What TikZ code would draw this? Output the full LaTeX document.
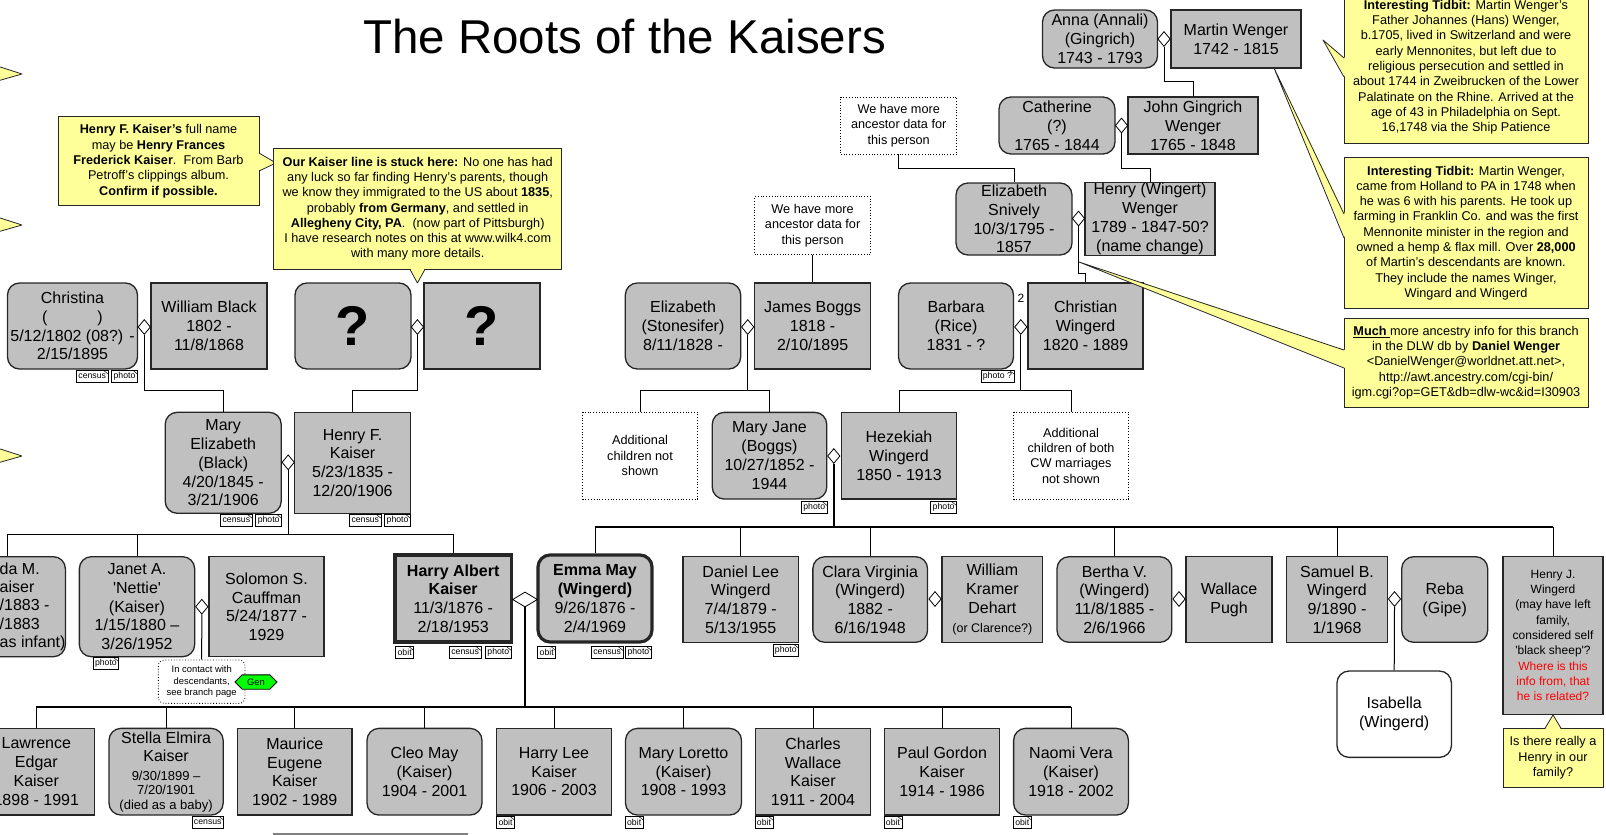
\documentclass[tikz,border=0pt]{standalone}
\usepackage{fontspec}
\setmainfont{Liberation Sans}
\usetikzlibrary{positioning,shapes.geometric,shapes.symbols}

\definecolor{boxgray}{HTML}{C0C0C0}
\definecolor{noteyellow}{HTML}{FFFF99}
\definecolor{edgegray}{HTML}{262626}
\definecolor{gengreen}{HTML}{00FF00}

\begin{document}
\begin{tikzpicture}[x=1pt, y=-1pt,
		man/.style={draw=edgegray, line width=1.3pt, fill=boxgray, align=center, inner sep=1pt,
			minimum width=116pt, minimum height=86pt, font=\fontsize{16}{18.8}\selectfont},
		woman/.style={man, rounded corners=12pt},
		focus/.style={line width=3.2pt},
		wed/.style={diamond, draw=black, fill=white, line width=0.8pt, inner sep=0pt,
			minimum width=12.5pt, minimum height=15pt},
		note/.style={draw=edgegray, line width=0.8pt, fill=noteyellow, align=center, inner sep=2pt,
			font=\fontsize{12.7}{15.3}\selectfont},
		more/.style={draw, dotted, line width=0.8pt, fill=white, align=center, inner sep=1pt,
			minimum width=116pt, font=\fontsize{12.7}{15.3}\selectfont},
		tag/.style={draw, fill=white, line width=0.6pt, inner xsep=2pt, inner ysep=0pt,
			minimum height=12pt, font=\fontsize{8.7}{9}\selectfont,
			path picture={\draw [line width=0.5pt] ([xshift=-5pt]path picture bounding box.north east) -- ([yshift=-4pt]path picture bounding box.north east);}},
		link/.style={line width=1pt},
		bus/.style={line width=2pt},
		pointer/.style={draw=edgegray, line width=0.8pt, fill=noteyellow, line join=round},
		pointeredge/.style={draw=edgegray, line width=0.8pt, line join=round}
	]
		\useasboundingbox ( 0, 0 ) rectangle ( 1606, 835 );

		% заголовок
		\node [font=\fontsize{47.5}{52}\selectfont, anchor=base] (title) at ( 624.5, 53 ) {The Roots of the Kaisers};

		% выноски у левого края
		\coordinate (lefttip1) at ( 22, 74 );
		\coordinate (lefttip2) at ( 22, 225 );
		\coordinate (lefttip3) at ( 22, 456 );
		\draw [pointer] ( -6, 65 ) -- (lefttip1) -- ( -6, 82 ) -- cycle;
		\draw [pointer] ( -6, 216 ) -- (lefttip2) -- ( -6, 233 ) -- cycle;
		\draw [pointer] ( -6, 447 ) -- (lefttip3) -- ( -6, 464 ) -- cycle;

		% Anna + Martin Wenger
		\node [woman, minimum width=115pt, minimum height=58pt] (anna) at ( 1100, 39 ) {Anna (Annali)\\(Gingrich)\\1743 - 1793};
		\node [man, minimum width=130pt, minimum height=58pt] (martin) at ( 1236, 39 ) {Martin Wenger\\1742 - 1815};
		\node [wed] (annaw) at ( 1164, 39 ) {};

		% Catherine + John Gingrich Wenger
		\node [woman, minimum height=57pt] (cath) at ( 1057, 125.5 ) {Catherine\\(?)\\1765 - 1844};
		\node [man, minimum width=130pt, minimum height=57pt] (john) at ( 1193, 125.5 ) {John Gingrich\\Wenger\\1765 - 1848};
		\node [wed] (cathw) at ( 1121.5, 125.5 ) {};
		\draw [link] (annaw.south) -- ++( 0, 35 ) -| (john.north);
		\node [more, minimum height=57pt] (more1) at ( 898.7, 125.5 ) {We have more\\ancestor data for\\this person};

		% Elizabeth Snively + Henry (Wingert) Wenger
		\node [woman, minimum height=72pt] (snively) at ( 1014, 219 ) {Elizabeth\\Snively\\10/3/1795 -\\1857};
		\node [man, minimum width=130pt, minimum height=72pt] (henryw) at ( 1150, 219 ) {Henry (Wingert)\\Wenger\\1789 - 1847-50?\\(name change)};
		\node [wed] (snivelyw) at ( 1078.5, 218.5 ) {};
		\draw [link] (cathw.south) -- ++( 0, 35 ) -| (henryw.north);
		\draw [link] (more1.south) -- ++( 0, 14 ) -| (snively.north);
		\node [more, minimum height=57.5pt] (more2) at ( 812.6, 225.5 ) {We have more\\ancestor data for\\this person};

		% поколение Christina ... Christian Wingerd
		\node [woman, minimum width=130pt] (christina) at ( 72.5, 326 ) {Christina\\(\hspace{50pt})\\5/12/1802 (08?) -\\2/15/1895};
		\node [man] (wblack) at ( 209, 326 ) {William Black\\1802 -\\11/8/1868};
		\node [wed] (christinaw) at ( 144.3, 327 ) {};
		\node [woman, font=\fontsize{56}{60}\selectfont\bfseries] (unknownm) at ( 353, 326 ) {?};
		\node [man, font=\fontsize{56}{60}\selectfont\bfseries] (unknownf) at ( 482, 326 ) {?};
		\node [wed] (unknownw) at ( 417.4, 327 ) {};
		\node [woman, minimum width=115.4pt] (stonesifer) at ( 683, 326 ) {Elizabeth\\(Stonesifer)\\8/11/1828 -};
		\node [man] (boggs) at ( 812.6, 326 ) {James Boggs\\1818 -\\2/10/1895};
		\node [wed] (stonesiferw) at ( 747.7, 327 ) {};
		\draw [link] (more2.south) -- (boggs.north);
		\node [woman, minimum width=115pt] (barbara) at ( 956, 326 ) {Barbara\\(Rice)\\1831 - ?};
		\node [man, minimum width=115pt] (christian) at ( 1085.6, 326 ) {Christian\\Wingerd\\1820 - 1889};
		\node [wed] (barbaraw) at ( 1020.8, 327 ) {};
		\node [font=\fontsize{12}{14}\selectfont, inner sep=0pt] (second) at ( 1021, 298 ) {2};
		\draw [link] (snivelyw.south) -- ++( 0, 47 ) -| (christian.north);
		\node [tag, below left=0pt and 0.5pt of christina.south east] (christinaph) {photo};
		\node [tag, left=3pt of christinaph] (christinacen) {census};
		\node [tag, below left=0pt and 0pt of barbara.south east] (barbaraph) {photo ?};

		% Mary Elizabeth + Henry F. Kaiser
		\node [woman, minimum height=101pt] (maryE) at ( 223.2, 462.8 ) {Mary\\Elizabeth\\(Black)\\4/20/1845 -\\3/21/1906};
		\node [man, minimum height=101pt] (henryF) at ( 352.6, 462.8 ) {Henry F.\\Kaiser\\5/23/1835 -\\12/20/1906};
		\node [wed] (maryEw) at ( 288.2, 462.3 ) {};
		\draw [link] (christinaw.south) -- ++( 0, 56 ) -| (maryE.north);
		\draw [link] (unknownw.south) -- ++( 0, 56 ) -| (henryF.north);
		\node [tag, below left=0pt and 0pt of maryE.south east] (maryEph) {photo};
		\node [tag, left=3pt of maryEph] (maryEcen) {census};
		\node [tag, below left=0pt and 0.5pt of henryF.south east] (henryFph) {photo};
		\node [tag, left=3pt of henryFph] (henryFcen) {census};

		% Mary Jane + Hezekiah Wingerd
		\node [more, minimum width=115pt, minimum height=86.7pt] (more3) at ( 640, 455.7 ) {Additional\\children not\\shown};
		\node [woman, minimum width=114.5pt, minimum height=86.7pt] (maryJ) at ( 769.5, 455.7 ) {Mary Jane\\(Boggs)\\10/27/1852 -\\1944};
		\node [man, minimum width=115.3pt, minimum height=86.7pt] (hezekiah) at ( 899, 455.7 ) {Hezekiah\\Wingerd\\1850 - 1913};
		\node [wed] (maryJw) at ( 833.8, 456 ) {};
		\node [more, minimum width=115pt, minimum height=86.7pt] (more4) at ( 1071, 455.7 ) {Additional\\children of both\\CW marriages\\not shown};
		\draw [link] (stonesiferw.south) -- ++( 0, 56 ) -| (more3.north);
		\draw [link] (stonesiferw.south) -- ++( 0, 56 ) -| (maryJ.north);
		\draw [link] (barbaraw.south) -- ++( 0, 56 ) -| (hezekiah.north);
		\draw [link] (barbaraw.south) -- ++( 0, 56 ) -| (more4.north);
		\node [tag, below left=1.5pt and 0pt of maryJ.south east] (maryJph) {photo};
		\node [tag, below left=1.5pt and 0.5pt of hezekiah.south east] (hezekiahph) {photo};

		% дети Mary Elizabeth и Henry F.
		\node [woman, minimum height=100pt] (ida) at ( 7.4, 606.7 ) {};
		\node [anchor=west, align=left, inner sep=0pt, font=\fontsize{16}{18.2}\selectfont] (idatext) at ( -0.5, 606.7 ) {da M.\\aiser\\/1883 -\\/1883\\as infant)};
		\node [woman, minimum width=115.3pt, minimum height=100pt] (janet) at ( 137, 606.7 ) {Janet A.\\\textquotesingle Nettie\textquotesingle\\(Kaiser)\\1/15/1880 –\\3/26/1952};
		\node [man, minimum width=115pt, minimum height=100pt] (solomon) at ( 266.5, 606.7 ) {Solomon S.\\Cauffman\\5/24/1877 -\\1929};
		\node [wed] (janetw) at ( 201.8, 606.7 ) {};
		\node [man, focus, minimum width=116.5pt, minimum height=87pt] (harry) at ( 453.2, 598.5 ) {\textbf{Harry Albert}\\\textbf{Kaiser}\\11/3/1876 -\\2/18/1953};
		\draw [link] (maryEw.south) -- ++( 0, 64 ) -| (ida.north);
		\draw [link] (maryEw.south) -- ++( 0, 64 ) -| (janet.north);
		\draw [link] (maryEw.south) -- ++( 0, 64 ) -| (harry.north);
		\node [tag, below right=0pt and 14pt of janet.south west] (janetph) {photo};
		\node [draw, dotted, rounded corners=6pt, line width=0.8pt, fill=white, align=center, inner sep=1pt,
			minimum width=86.7pt, minimum height=43.3pt, font=\fontsize{9.4}{11.3}\selectfont] (contact) at ( 201.7, 681.7 ) {In contact with\\descendants,\\see branch page};
		\node [signal, signal to=east and west, draw, fill=gengreen, line width=0.8pt, inner sep=0.5pt,
			minimum width=42pt, minimum height=14.3pt, font=\fontsize{9.4}{10}\selectfont] (gen) at ( 256, 682 ) {Gen};
		\draw [link] (janetw.south) -- (contact.north);
		\node [tag, below right=2.5pt and 2pt of harry.south west] (harryob) {obit};
		\node [tag, below left=2.5pt and 1.5pt of harry.south east] (harryph) {photo};
		\node [tag, left=4pt of harryph] (harrycen) {census};

		% дети Mary Jane и Hezekiah
		\node [woman, focus, minimum width=114pt, minimum height=87pt] (emma) at ( 595, 598.5 ) {\textbf{Emma May}\\\textbf{(Wingerd)}\\9/26/1876 -\\2/4/1969};
		\node [wed, minimum width=25pt, minimum height=15pt] (harryw) at ( 525, 599.5 ) {};
		\node [tag, below right=2.5pt and 1pt of emma.south west] (emmaob) {obit};
		\node [tag, below left=2.5pt and 2pt of emma.south east] (emmaph) {photo};
		\node [tag, left=2pt of emmaph] (emmacen) {census};
		\node [man, minimum width=115.3pt, minimum height=85.6pt] (daniel) at ( 740.7, 599.5 ) {Daniel Lee\\Wingerd\\7/4/1879 -\\5/13/1955};
		\node [tag, below left=1pt and 0pt of daniel.south east] (danielph) {photo};
		\node [woman, minimum width=114.7pt, minimum height=85.6pt] (clara) at ( 870.2, 599.5 ) {Clara Virginia\\(Wingerd)\\1882 -\\6/16/1948};
		\node [man, minimum width=100.8pt, minimum height=85.6pt] (william) at ( 992.4, 599.5 ) {William\\Kramer\\Dehart\\{\fontsize{12.5}{15}\selectfont (or Clarence?)}};
		\node [wed] (claraw) at ( 935, 599 ) {};
		\node [woman, minimum width=114.8pt, minimum height=85.6pt] (bertha) at ( 1114.4, 599.5 ) {Bertha V.\\(Wingerd)\\11/8/1885 -\\2/6/1966};
		\node [man, minimum width=86pt, minimum height=85.6pt] (wallace) at ( 1229, 599.5 ) {Wallace\\Pugh};
		\node [wed] (berthaw) at ( 1179, 599 ) {};
		\node [man, minimum width=100.7pt, minimum height=85.6pt] (samuel) at ( 1337, 599.5 ) {Samuel B.\\Wingerd\\9/1890 -\\1/1968};
		\node [woman, minimum width=86pt, minimum height=85.6pt] (reba) at ( 1444.7, 599.5 ) {Reba\\(Gipe)};
		\node [wed] (samuelw) at ( 1394.5, 599 ) {};
		\node [man, minimum width=100.2pt, minimum height=157.6pt, font=\fontsize{12}{15.3}\selectfont] (henryJ) at ( 1553, 635.5 ) {Henry J.\\Wingerd\\(may have left\\family,\\considered self\\\textquotesingle black sheep\textquotesingle?\\\textcolor{red}{Where is this}\\\textcolor{red}{info from, that}\\\textcolor{red}{he is related?}};
		\node [woman, fill=white, minimum width=114.5pt, minimum height=86.3pt] (isabella) at ( 1394.2, 714.2 ) {Isabella\\(Wingerd)};
		\draw [link] (samuelw.south) -- (isabella.north);
		\draw [bus] (maryJw.south) -- ++( 0, 63.5 ) coordinate (wingerdbus);
		\draw [bus] (emma.north |- wingerdbus) -- (henryJ.north |- wingerdbus);
		\draw [link] (wingerdbus -| emma.north) -- (emma.north);
		\draw [link] (wingerdbus -| daniel.north) -- (daniel.north);
		\draw [link] (wingerdbus -| clara.north) -- (clara.north);
		\draw [link] (wingerdbus -| bertha.north) -- (bertha.north);
		\draw [link] (wingerdbus -| samuel.north) -- (samuel.north);
		\draw [link] (wingerdbus -| henryJ.north) -- (henryJ.north);

		% дети Harry Albert и Emma May
		\node [man, minimum width=116.6pt, minimum height=86.7pt] (lawrence) at ( 36.3, 771.7 ) {Lawrence\\Edgar\\Kaiser\\1898 - 1991};
		\node [woman, minimum width=114.2pt, minimum height=86.7pt] (stella) at ( 166.1, 771.7 ) {Stella Elmira\\Kaiser\\{\fontsize{13}{14.3}\selectfont 9/30/1899 –}\\[-4.5pt]{\fontsize{13}{14.3}\selectfont 7/20/1901}\\[-4.5pt]{\fontsize{13}{14.3}\selectfont (died as a baby)}};
		\node [man, minimum width=114.3pt, minimum height=86.7pt] (maurice) at ( 294.7, 771.7 ) {Maurice\\Eugene\\Kaiser\\1902 - 1989};
		\node [woman, minimum width=115pt, minimum height=86.7pt] (cleo) at ( 424.5, 771.7 ) {Cleo May\\(Kaiser)\\1904 - 2001};
		\node [man, minimum width=115.2pt, minimum height=86.7pt] (harryL) at ( 554, 771.7 ) {Harry Lee\\Kaiser\\1906 - 2003};
		\node [woman, minimum width=116pt, minimum height=86.7pt] (maryL) at ( 683.5, 771.7 ) {Mary Loretto\\(Kaiser)\\1908 - 1993};
		\node [man, minimum width=115.4pt, minimum height=86.7pt] (charles) at ( 813, 771.7 ) {Charles\\Wallace\\Kaiser\\1911 - 2004};
		\node [man, minimum width=115.4pt, minimum height=86.7pt] (paul) at ( 942, 771.7 ) {Paul Gordon\\Kaiser\\1914 - 1986};
		\node [woman, minimum width=114.8pt, minimum height=86.7pt] (naomi) at ( 1071, 771.7 ) {Naomi Vera\\(Kaiser)\\1918 - 2002};
		\draw [bus] (harryw.south) -- ++( 0, 99.5 ) coordinate (kaiserbus);
		\draw [bus] (lawrence.north |- kaiserbus) -- (naomi.north |- kaiserbus);
		\draw [link] (kaiserbus -| lawrence.north) -- (lawrence.north);
		\draw [link] (kaiserbus -| stella.north) -- (stella.north);
		\draw [link] (kaiserbus -| maurice.north) -- (maurice.north);
		\draw [link] (kaiserbus -| cleo.north) -- (cleo.north);
		\draw [link] (kaiserbus -| harryL.north) -- (harryL.north);
		\draw [link] (kaiserbus -| maryL.north) -- (maryL.north);
		\draw [link] (kaiserbus -| charles.north) -- (charles.north);
		\draw [link] (kaiserbus -| paul.north) -- (paul.north);
		\draw [link] (kaiserbus -| naomi.north) -- (naomi.north);
		\node [tag, below left=0pt and 0pt of stella.south east] (stellacen) {census};
		\node [tag, below right=0pt and 0.5pt of harryL.south west] (harryLob) {obit};
		\node [tag, below right=0pt and 0pt of maryL.south west] (maryLob) {obit};
		\node [tag, below right=0pt and 0pt of charles.south west] (charlesob) {obit};
		\node [tag, below right=0pt and 0pt of paul.south west] (paulob) {obit};
		\node [tag, below right=0pt and 0pt of naomi.south west] (naomiob) {obit};
		\draw [gray, line width=1.2pt] ( 273, 834 ) -- ( 468, 834 );

		% заметки
		\node [note, minimum width=201pt, minimum height=89pt] (kaisername) at ( 158.5, 161.3 ) {\textbf{Henry F. Kaiser's} full name\\may be \textbf{Henry Frances}\\\textbf{Frederick Kaiser}.\ \ From Barb\\Petroff's clippings album.\\\textbf{Confirm if possible.}};
		\coordinate (kaisernametip) at ( 276, 163 );
		\fill [noteyellow] ( 258, 153 ) -- (kaisernametip) -- ( 258, 171 ) -- cycle;
		\draw [pointeredge] ( 259, 153 ) -- (kaisernametip) -- ( 259, 171 );

		\node [note, minimum width=288pt, minimum height=121pt] (stuck) at ( 417.7, 208.8 ) {\textbf{Our Kaiser line is stuck here:} No one has had\\any luck so far finding Henry's parents, though\\we know they immigrated to the US about \textbf{1835},\\probably \textbf{from Germany}, and settled in\\\textbf{Allegheny City, PA}.\ \ (now part of Pittsburgh)\\I have research notes on this at www.wilk4.com\\with many more details.};
		\coordinate (stucktip) at ( 417.4, 283 );
		\fill [noteyellow] ( 410, 268 ) -- (stucktip) -- ( 425, 268 ) -- cycle;
		\draw [pointeredge] ( 410, 269.3 ) -- (stucktip) -- ( 425, 269.3 );

		\node [note, minimum width=244pt, minimum height=151.4pt] (tidbithans) at ( 1466, 67.3 ) {\textbf{Interesting Tidbit:} Martin Wenger's\\Father Johannes (Hans) Wenger,\\b.1705, lived in Switzerland and were\\early Mennonites, but left due to\\religious persecution and settled in\\about 1744 in Zweibrucken of the Lower\\Palatinate on the Rhine. Arrived at the\\age of 43 in Philadelphia on Sept.\\16,1748 via the Ship Patience};
		\coordinate (tidbithanstip) at ( 1323, 40 );
		\fill [noteyellow] ( 1345, 58 ) -- (tidbithanstip) -- ( 1345, 77 ) -- cycle;
		\draw [pointeredge] ( 1344, 58 ) -- (tidbithanstip) -- ( 1344, 77 );

		\node [note, minimum width=244pt, minimum height=150.6pt] (tidbitmartin) at ( 1466, 233 ) {\textbf{Interesting Tidbit:} Martin Wenger,\\came from Holland to PA in 1748 when\\he was 6 with his parents. He took up\\farming in Franklin Co. and was the first\\Mennonite minister in the region and\\owned a hemp \& flax mill. Over \textbf{28,000}\\of Martin's descendants are known.\\They include the names Winger,\\Wingard and Wingerd};
		\coordinate (tidbitmartintip) at ( 1274, 68 );
		\fill [noteyellow] ( 1345, 214 ) -- (tidbitmartintip) -- ( 1345, 238 ) -- cycle;
		\draw [pointeredge] ( 1344, 214 ) -- (tidbitmartintip) -- ( 1344, 238 );

		\node [note, minimum width=244pt, minimum height=89pt] (dlw) at ( 1466, 362.5 ) {\underline{\textbf{Much}\ }more ancestry info for this branch\\in the DLW db by \textbf{Daniel Wenger}\\<DanielWenger@worldnet.att.net>,\\http://awt.ancestry.com/cgi-bin/\\igm.cgi?op=GET\&db=dlw-wc\&id=I30903};
		\coordinate (dlwtip) at ( 1079, 262 );
		\fill [noteyellow] ( 1345, 350 ) -- (dlwtip) -- ( 1345, 368 ) -- cycle;
		\draw [pointeredge] ( 1344, 350 ) -- (dlwtip) -- ( 1344, 368 );

		\node [note, minimum width=100.2pt, minimum height=59pt] (henryq) at ( 1553, 757.8 ) {Is there really a\\Henry in our\\family?};
		\fill [noteyellow] ( 1545, 729.5 ) -- (henryJ.south) -- ( 1561, 729.5 ) -- cycle;
		\draw [pointeredge] ( 1545, 728.3 ) -- (henryJ.south) -- ( 1561, 728.3 );
	\end{tikzpicture}
\end{document}
